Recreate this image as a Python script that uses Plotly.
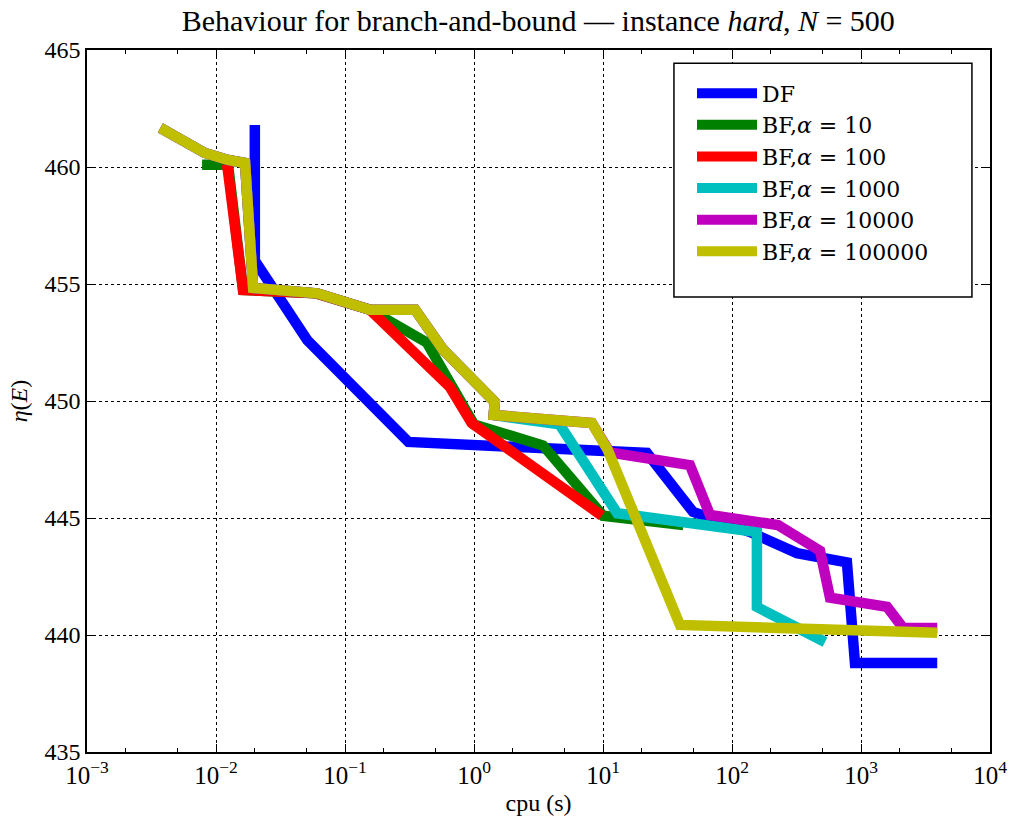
import plotly.graph_objects as go

# CPU time (s) and objective value eta(E) for each search strategy
df_cpu = [0.020, 0.020, 0.051, 0.31, 21.9, 49.9, 138, 319, 778, 898, 3900]
df_eta = [461.8, 456.0, 452.6, 448.25, 447.78, 445.26, 444.4, 443.5, 443.1, 438.8, 438.8]

bf10_cpu = [0.0078, 0.0124, 0.0162, 0.06, 0.156, 0.43, 1.0, 3.43, 10.0, 42]
bf10_eta = [460.1, 460.1, 454.75, 454.6, 453.9, 452.5, 449.0, 448.1, 445.1, 444.7]

bf100_cpu = [0.0122, 0.0162, 0.06, 0.156, 0.65, 0.96, 9.8]
bf100_eta = [460.1, 454.75, 454.6, 453.9, 450.6, 449.06, 445.1]

bf1000_cpu = [0.0037, 0.0082, 0.0124, 0.0168, 0.0194, 0.061, 0.156, 0.35, 0.575,
              1.45, 1.42, 4.6, 12.9, 156, 156, 526]
bf1000_eta = [461.67, 460.6, 460.3, 460.17, 454.83, 454.6, 453.9, 453.9, 452.2,
              449.96, 449.4, 449.0, 445.2, 444.4, 441.2, 439.7]

bf10000_cpu = [0.0037, 0.0082, 0.0124, 0.0168, 0.0194, 0.061, 0.156, 0.35, 0.575,
               1.45, 1.42, 8.2, 11.3, 47.2, 67.5, 227, 481, 575, 1592, 2120, 3900]
bf10000_eta = [461.67, 460.6, 460.3, 460.17, 454.83, 454.6, 453.9, 453.9, 452.2,
               449.96, 449.4, 449.06, 447.8, 447.26, 445.13, 444.7, 443.6, 441.6,
               441.2, 440.3, 440.3]

bf100000_cpu = [0.0037, 0.0082, 0.0124, 0.0168, 0.0194, 0.061, 0.156, 0.35, 0.575,
                1.45, 1.42, 8.2, 10.9, 39.5, 3900]
bf100000_eta = [461.67, 460.6, 460.3, 460.17, 454.83, 454.6, 453.9, 453.9, 452.2,
                449.96, 449.4, 449.06, 447.9, 440.43, 440.1]

series = [
    ("DF", df_cpu, df_eta, "#0000ff"),
    ("BF,<i>α</i> = 10", bf10_cpu, bf10_eta, "#008000"),
    ("BF,<i>α</i> = 100", bf100_cpu, bf100_eta, "#ff0000"),
    ("BF,<i>α</i> = 1000", bf1000_cpu, bf1000_eta, "#00bfbf"),
    ("BF,<i>α</i> = 10000", bf10000_cpu, bf10000_eta, "#bf00bf"),
    ("BF,<i>α</i> = 100000", bf100000_cpu, bf100000_eta, "#bfbf00"),
]

x_tickvals = [1e-3, 1e-2, 1e-1, 1, 10, 100, 1e3, 1e4]
x_ticktext = ["10<sup>−3</sup>", "10<sup>−2</sup>", "10<sup>−1</sup>", "10<sup>0</sup>",
              "10<sup>1</sup>", "10<sup>2</sup>", "10<sup>3</sup>", "10<sup>4</sup>"]
y_tickvals = [435, 440, 445, 450, 455, 460, 465]

FONT = "Liberation Serif"
LEGEND_FONT = "DejaVu Serif"

fig = go.Figure()
for name, xs, ys, col in series:
    fig.add_trace(go.Scatter(x=xs, y=ys, mode="lines", name=name,
                             line=dict(color=col, width=10.5)))

# framed legend panel in the upper right corner of the axes
fig.add_shape(type="rect", xref="paper", yref="paper",
              x0=0.650, x1=0.980, y0=0.648, y1=0.981,
              line=dict(color="black", width=1.5), fillcolor="white",
              layer="above")

fig.update_layout(
    width=1009, height=818,
    margin=dict(l=87, r=19, t=50, b=66),
    paper_bgcolor="white", plot_bgcolor="white",
    font=dict(family=FONT, color="black", size=22),
    title=dict(text="Behaviour for branch-and-bound — instance <i>hard</i>, <i>N</i> = 500",
               x=0.5335, xanchor="center", y=0.975, yanchor="middle",
               font=dict(family=FONT, size=30)),
    legend=dict(x=0.670, y=0.968, xanchor="left", yanchor="top",
                borderwidth=0, bgcolor="rgba(0,0,0,0)",
                font=dict(family=LEGEND_FONT, size=22), tracegroupgap=0, itemwidth=60),
    showlegend=True,
)

fig.update_xaxes(
    type="log", range=[-3, 4], automargin=False,
    tickvals=x_tickvals, ticktext=x_ticktext,
    ticks="inside", ticklen=8, tickcolor="black",
    showline=True, linecolor="black", linewidth=1.5, mirror="ticks",
    showgrid=True, gridcolor="black", griddash="dot", gridwidth=1,
    minor=dict(ticks="inside", ticklen=4, tickcolor="black", showgrid=False),
    zeroline=False,
    title=dict(text="cpu (s)", font=dict(family=FONT, size=24), standoff=6),
    tickfont=dict(family=FONT, size=25),
)
fig.update_yaxes(
    range=[435, 465], tickvals=y_tickvals, automargin=False,
    ticks="inside", ticklen=8, tickcolor="black",
    showline=True, linecolor="black", linewidth=1.5, mirror="ticks",
    showgrid=True, gridcolor="black", griddash="dot", gridwidth=1,
    zeroline=False,
    title=dict(text="<i>η</i>(<i>E</i>)", font=dict(family=FONT, size=24), standoff=10),
    tickfont=dict(family=FONT, size=24),
)

fig.write_html("out.html")
